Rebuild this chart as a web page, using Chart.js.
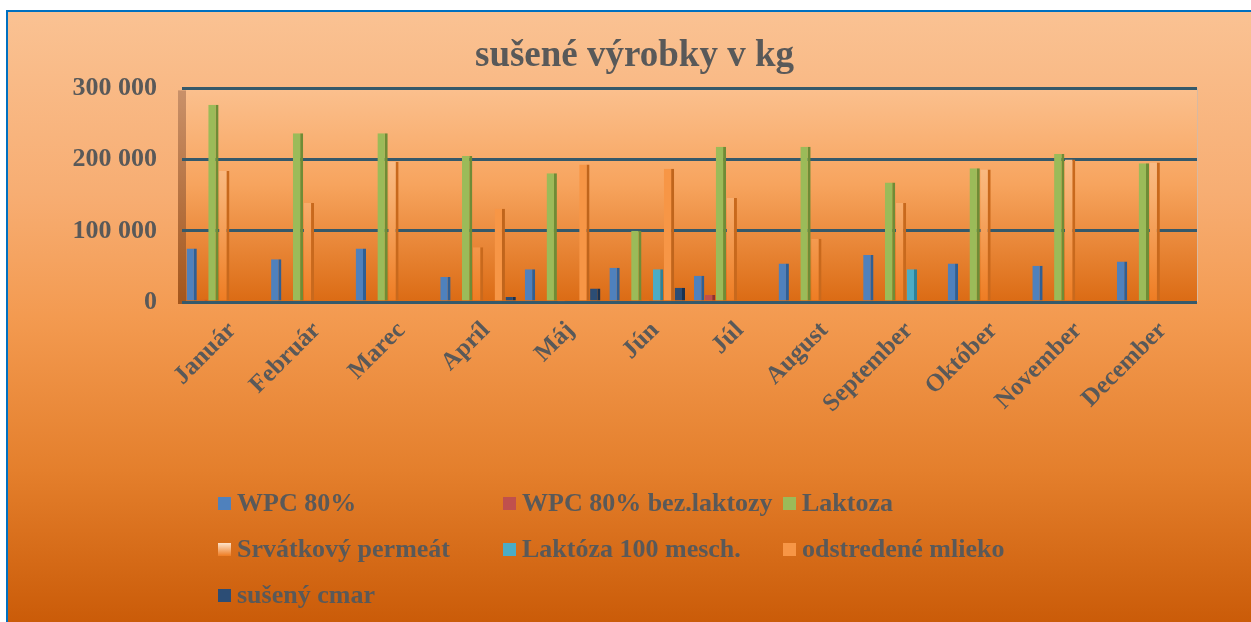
<!DOCTYPE html>
<html>
<head>
<meta charset="utf-8">
<script src="https://cdn.jsdelivr.net/npm/chart.js@4.4.1/dist/chart.umd.min.js"></script>
<style>
    html, body { margin: 0; padding: 0; background: #fff; }
    body { width: 1251px; height: 622px; position: relative; overflow: hidden; }
    .frame {
        position: absolute; left: 6px; top: 10px; width: 1245px; height: 612px;
        border-top: 2px solid #0070c0; border-left: 2px solid #0070c0;
        background: linear-gradient(to bottom, #fac293 0%, #f7ad72 30%, #f39a50 50%, #e47f2c 75%, #ca5b08 100%);
    }
    #wrap { position: absolute; left: 0; top: 0; width: 1251px; height: 622px; }
    .legend {
        position: absolute; left: 218px; top: 480px;
        display: grid; grid-template-columns: 285px 280px 300px; grid-auto-rows: 46px;
        font-family: "Liberation Serif", "Times New Roman", serif; font-weight: bold;
        font-size: 26px; color: #595959;
    }
    .legend div { display: flex; align-items: center; white-space: nowrap; }
    .legend span { display: inline-block; width: 13px; height: 13px; margin-right: 6px; }
</style>
</head>
<body>
<div class="frame"></div>
<div id="wrap"><canvas id="myChart"></canvas></div>
<div class="legend" id="legend"></div>
<script>
// data (kg)
const months = ['Január', 'Február', 'Marec', 'Apríl', 'Máj', 'Jún', 'Júl', 'August', 'September', 'Október', 'November', 'December'];
const wpc80 = [75000, 60000, 75000, 35000, 46000, 48000, 37000, 54000, 66000, 54000, 51000, 57000];
const wpc80bezLaktozy = [3000, 0, 0, 0, 0, 0, 10000, 0, 0, 0, 0, 0];
const laktoza = [277000, 237000, 237000, 205000, 181000, 100000, 218000, 218000, 168000, 188000, 208000, 195000];
const permeat = [184000, 139000, 197000, 77000, 1000, 3000, 146000, 89000, 139000, 186000, 200000, 196000];
const laktoza100 = [0, 2000, 0, 0, 0, 46000, 0, 0, 46000, 0, 0, 0];
const mlieko = [0, 0, 0, 131000, 193000, 187000, 0, 0, 0, 0, 0, 0];
const cmar = [0, 0, 0, 7000, 19000, 20000, 0, 2000, 0, 0, 0, 0];
const yTicks = [0, 100000, 200000, 300000];

const FONT = "'Liberation Serif', 'Times New Roman', serif";
const GREY = '#595959';

// svetly prechod pre permeat
const permeatFill = (ctx) => {
    const area = ctx.chart.chartArea;
    if (!area) return '#fbc596';
    const g = ctx.chart.ctx.createLinearGradient(0, area.top, 0, area.bottom);
    g.addColorStop(0, '#fcd6b4');
    g.addColorStop(0.5, '#f8b071');
    g.addColorStop(1, '#ee7c22');
    return g;
};

const series = [
    { label: 'WPC 80%', data: wpc80, color: '#4f81bd', side: '#2f5f95' },
    { label: 'WPC 80% bez.laktozy', data: wpc80bezLaktozy, color: '#c0504d', side: '#8c3331' },
    { label: 'Laktoza', data: laktoza, color: '#9bbb59', side: '#6f8c36' },
    { label: 'Srvátkový permeát', data: permeat, color: permeatFill, side: '#c8691d', box: 'linear-gradient(#fde3cb, #ee7c22)' },
    { label: 'Laktóza 100 mesch.', data: laktoza100, color: '#4bacc6', side: '#2d8199' },
    { label: 'odstredené mlieko', data: mlieko, color: '#f79646', side: '#c0651c' },
    { label: 'sušený cmar', data: cmar, color: '#2c4d75', side: '#1a3250' },
];

const data = {
    labels: months,
    datasets: series.map(s => ({
        label: s.label,
        data: s.data,
        backgroundColor: s.color,
        borderColor: s.side,
        borderWidth: { top: 0, left: 0, bottom: 0, right: 3 },
        borderSkipped: false,
        barPercentage: 0.95,
        categoryPercentage: 0.9,
    })),
};

// zadna stena grafu
const wallPlugin = {
    id: 'wall',
    beforeDraw(chart) {
        const { ctx, chartArea: a } = chart;
        const g = ctx.createLinearGradient(0, a.top, 0, a.bottom);
        g.addColorStop(0, '#fbc08e');
        g.addColorStop(0.45, '#f7a45e');
        g.addColorStop(1, '#db6b14');
        ctx.save();
        ctx.fillStyle = g;
        ctx.fillRect(a.left, a.top, a.right - a.left, a.bottom - a.top);
        // lava bocna stena
        const s = ctx.createLinearGradient(0, a.top, 0, a.bottom);
        s.addColorStop(0, '#c9916a');
        s.addColorStop(1, '#a4561c');
        ctx.fillStyle = s;
        ctx.fillRect(a.left - 4, a.top + 2, 8, a.bottom - a.top);
        ctx.strokeStyle = '#d9b9a0';
        ctx.lineWidth = 1;
        ctx.beginPath();
        ctx.moveTo(a.right + 0.5, a.top);
        ctx.lineTo(a.right + 0.5, a.bottom);
        ctx.stroke();
        ctx.restore();
    },
};

const config = {
    type: 'bar',
    data: data,
    options: {
        responsive: true,
        maintainAspectRatio: false,
        animation: false,
        layout: { padding: { left: 72, right: 54, top: 0, bottom: 0 } },
        plugins: {
            legend: false,
            tooltip: false,
            title: {
                display: true,
                text: 'sušené výrobky v kg',
                color: GREY,
                font: { family: FONT, size: 37, weight: 'bold' },
                padding: { top: 34, bottom: 10 },
            },
        },
        scales: {
            y: {
                min: 0,
                max: 300000,
                afterFit: (s) => { s.width = 110; },
                afterBuildTicks: (s) => { s.ticks = yTicks.map(v => ({ value: v })); },
                grid: {
                    color: '#35596a',
                    lineWidth: 3,
                    drawTicks: false,
                },
                border: { display: false },
                ticks: {
                    color: GREY,
                    padding: 25,
                    font: { family: FONT, size: 26, weight: 'bold' },
                    callback: (v) => v.toLocaleString('en-US').replace(/,/g, ' '),
                },
            },
            x: {
                afterFit: (s) => { s.height = 320; },
                grid: { display: false },
                border: { display: false },
                ticks: {
                    color: GREY,
                    maxRotation: 45,
                    minRotation: 45,
                    padding: 6,
                    labelOffset: 8,
                    font: { family: FONT, size: 25, weight: 'bold' },
                },
            },
        },
    },
    plugins: [wallPlugin],
};

const myChart = new Chart(document.getElementById('myChart'), config);

// legenda v troch stlpcoch
const legendEl = document.getElementById('legend');
series.forEach(s => {
    const item = document.createElement('div');
    const box = document.createElement('span');
    box.style.background = s.box || s.color;
    item.appendChild(box);
    item.appendChild(document.createTextNode(s.label));
    legendEl.appendChild(item);
});
</script>
</body>
</html>
